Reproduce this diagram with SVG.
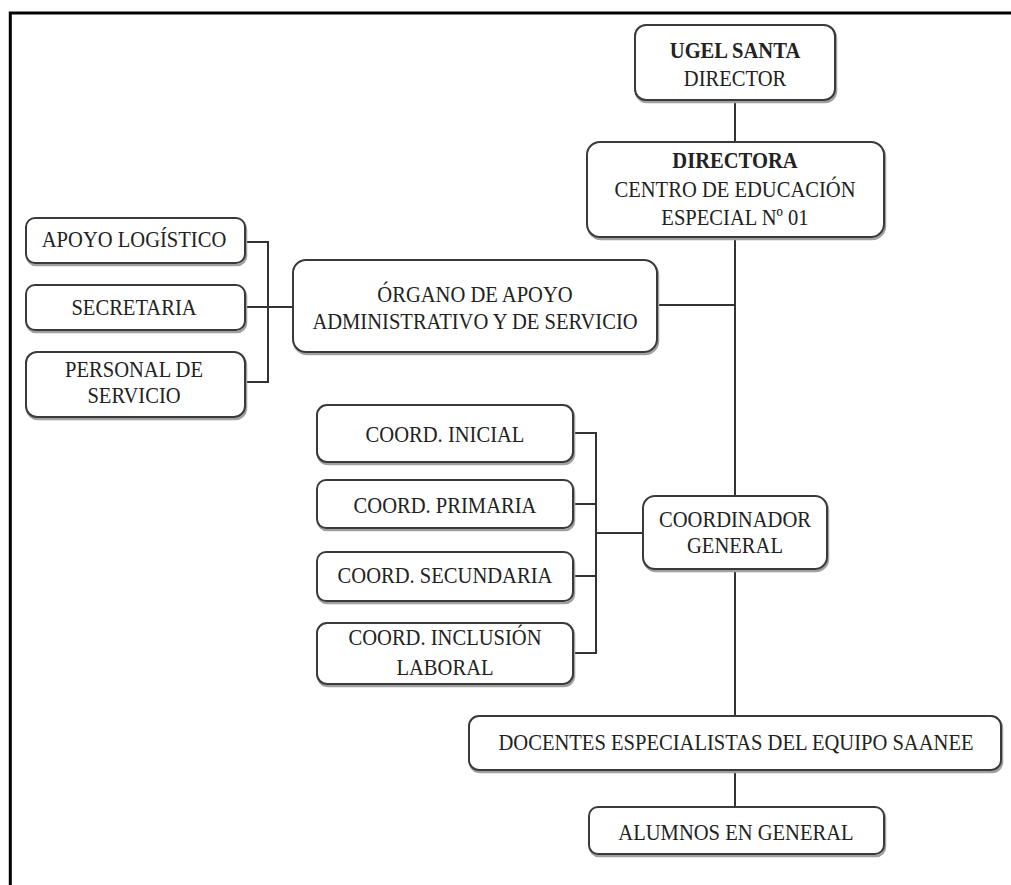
<svg xmlns="http://www.w3.org/2000/svg" width="1011" height="885" viewBox="0 0 1011 885">
<style>
.box{fill:#fff;stroke:#3a3a3a;stroke-width:2}
.sh{fill:none;stroke:#a0a0a0;stroke-width:2.5}
.t{font-family:"Liberation Serif","Times New Roman",serif;font-size:23.5px;fill:#222;text-anchor:middle}
.b{font-weight:bold}
.ln{stroke:#333;stroke-width:2;fill:none}
</style>
<rect width="1011" height="885" fill="#fff"/>
<path d="M10.3,885 V13 H1011" fill="none" stroke="#000" stroke-width="3"/>
<g id="connectors" class="ln">
<path d="M735,101 V142 M735,237 V496 M735,569 V716 M735,770 V807"/>
<path d="M657,305 H735"/>
<path d="M245,242 H268 V382 H245 M245,307 H293"/>
<path d="M573,433 H596 V653 H573 M573,504 H596 M573,576 H596 M596,533 H643"/>
</g>
<g id="ugel">
<rect class="sh" x="636" y="27" width="200" height="75" rx="11"/>
<rect class="box" x="635" y="25" width="200" height="75" rx="11"/>
<text class="t b" transform="translate(735,58) scale(0.875,1)">UGEL SANTA</text>
<text class="t" transform="translate(735,86) scale(0.875,1)">DIRECTOR</text>
</g>
<g id="directora">
<rect class="sh" x="588" y="144" width="297" height="95" rx="13"/>
<rect class="box" x="587" y="142" width="297" height="95" rx="13"/>
<text class="t b" transform="translate(735,168) scale(0.875,1)">DIRECTORA</text>
<text class="t" transform="translate(735,197) scale(0.875,1)">CENTRO DE EDUCACIÓN</text>
<text class="t" transform="translate(735,225) scale(0.875,1)">ESPECIAL Nº 01</text>
</g>
<g id="organo">
<rect class="sh" x="294" y="262" width="364" height="92" rx="13"/>
<rect class="box" x="293" y="260" width="364" height="92" rx="13"/>
<text class="t" transform="translate(475,302) scale(0.875,1)">ÓRGANO DE APOYO</text>
<text class="t" transform="translate(475,329) scale(0.875,1)">ADMINISTRATIVO Y DE SERVICIO</text>
</g>
<g id="apoyo">
<rect class="sh" x="27" y="220" width="219" height="45" rx="9"/>
<rect class="box" x="26" y="218" width="219" height="45" rx="9"/>
<text class="t" transform="translate(134,247) scale(0.875,1)">APOYO LOGÍSTICO</text>
</g>
<g id="secretaria">
<rect class="sh" x="27" y="287" width="219" height="45" rx="9"/>
<rect class="box" x="26" y="285" width="219" height="45" rx="9"/>
<text class="t" transform="translate(134,315) scale(0.875,1)">SECRETARIA</text>
</g>
<g id="personal">
<rect class="sh" x="27" y="354" width="219" height="65" rx="11"/>
<rect class="box" x="26" y="352" width="219" height="65" rx="11"/>
<text class="t" transform="translate(134,377) scale(0.875,1)">PERSONAL DE</text>
<text class="t" transform="translate(134,403) scale(0.875,1)">SERVICIO</text>
</g>
<g id="coord-inicial">
<rect class="sh" x="318" y="407" width="256" height="57" rx="10"/>
<rect class="box" x="317" y="405" width="256" height="57" rx="10"/>
<text class="t" transform="translate(445,442) scale(0.875,1)">COORD. INICIAL</text>
</g>
<g id="coord-primaria">
<rect class="sh" x="318" y="482" width="256" height="48" rx="9"/>
<rect class="box" x="317" y="480" width="256" height="48" rx="9"/>
<text class="t" transform="translate(445,513) scale(0.875,1)">COORD. PRIMARIA</text>
</g>
<g id="coord-secundaria">
<rect class="sh" x="318" y="554" width="256" height="49" rx="9"/>
<rect class="box" x="317" y="552" width="256" height="49" rx="9"/>
<text class="t" transform="translate(445,583) scale(0.875,1)">COORD. SECUNDARIA</text>
</g>
<g id="coord-inclusion">
<rect class="sh" x="318" y="625" width="256" height="61" rx="10"/>
<rect class="box" x="317" y="623" width="256" height="61" rx="10"/>
<text class="t" transform="translate(445,645) scale(0.875,1)">COORD. INCLUSIÓN</text>
<text class="t" transform="translate(445,675) scale(0.875,1)">LABORAL</text>
</g>
<g id="coordinador">
<rect class="sh" x="644" y="498" width="184" height="73" rx="12"/>
<rect class="box" x="643" y="496" width="184" height="73" rx="12"/>
<text class="t" transform="translate(735,527) scale(0.875,1)">COORDINADOR</text>
<text class="t" transform="translate(735,553) scale(0.875,1)">GENERAL</text>
</g>
<g id="docentes">
<rect class="sh" x="470" y="718" width="532" height="54" rx="10"/>
<rect class="box" x="469" y="716" width="532" height="54" rx="10"/>
<text class="t" transform="translate(736,750) scale(0.875,1)">DOCENTES ESPECIALISTAS DEL EQUIPO SAANEE</text>
</g>
<g id="alumnos">
<rect class="sh" x="590" y="809" width="295" height="47" rx="9"/>
<rect class="box" x="589" y="807" width="295" height="47" rx="9"/>
<text class="t" transform="translate(736,840) scale(0.875,1)">ALUMNOS EN GENERAL</text>
</g>
</svg>
